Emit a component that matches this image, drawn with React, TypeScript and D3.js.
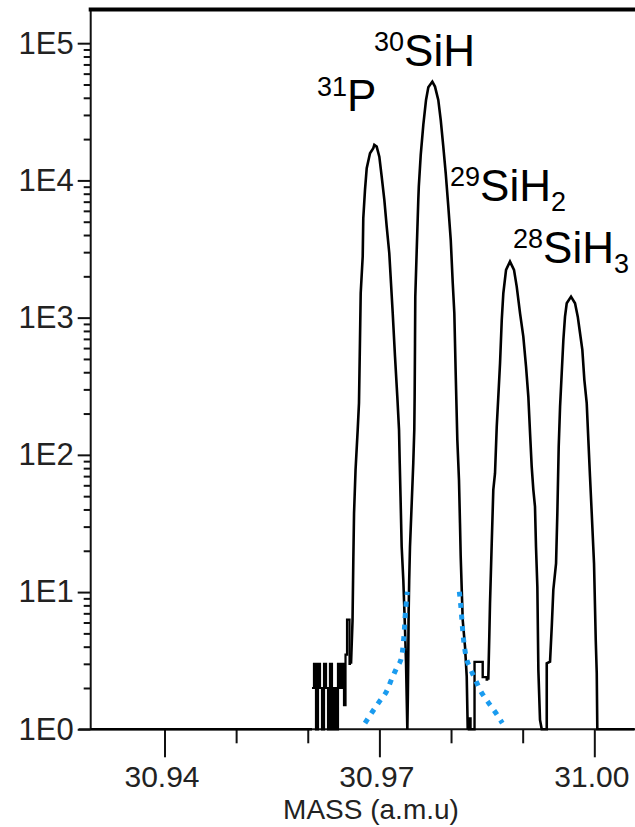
import React, { useEffect, useRef } from 'react';
import * as d3 from 'd3';

const WIDTH = 635;
const HEIGHT = 827;

// [mass (a.m.u), counts], left to right
const baseline: [number, number][] = [
  [30.9297, 1], [30.96059, 1],
];

// low-count noise left of 31P (drawn as steps)
const noiseBeforeP: [number, number][] = [
  [30.96059, 2], [30.96087, 3], [30.96115, 1], [30.96143, 3], [30.96171, 2],
  [30.96199, 1], [30.96227, 3], [30.96255, 2], [30.96283, 1], [30.9631, 3],
  [30.96338, 1], [30.96366, 2], [30.96394, 1], [30.96422, 3], [30.9645, 2],
  [30.96478, 3], [30.96506, 1.5], [30.96527, 3.5], [30.96548, 6.3], [30.96583, 3],
  [30.96604, 3],
];

const peakP: [number, number][] = [
  [30.96604, 3], [30.96625, 6.2], [30.96636, 17.1], [30.96646, 37.5], [30.96667, 77.6],
  [30.96697, 152], [30.96715, 238], [30.96729, 687], [30.96739, 1506], [30.96767, 2786],
  [30.96775, 5297], [30.96799, 8530], [30.96823, 12280], [30.96869, 15790], [30.96915, 17170],
  [30.96929, 18140], [30.96962, 17630], [30.96999, 14900], [30.97032, 10660], [30.97069, 7210],
  [30.97102, 4605], [30.97138, 2946], [30.97162, 1782], [30.97186, 1077], [30.97218, 520],
  [30.9725, 266], [30.97274, 152], [30.97284, 86.9], [30.97295, 49.6], [30.97311, 21.4],
  [30.97334, 12.2], [30.97358, 5.29], [30.97372, 3.03], [30.97381, 1.73], [30.9739, 1],
];

const peakSiH: [number, number][] = [
  [30.97397, 1.73], [30.97404, 3.78], [30.97408, 7.04], [30.97416, 12.2], [30.97427, 21.4],
  [30.97451, 44.4], [30.97473, 87.3], [30.97487, 152], [30.97492, 266], [30.97497, 650],
  [30.97501, 1422], [30.97521, 3116], [30.97543, 7210], [30.9755, 9010], [30.97577, 15350],
  [30.97613, 25360], [30.97651, 38600], [30.97683, 47770], [30.97739, 52480], [30.97776, 48280],
  [30.97822, 38600], [30.97856, 27610], [30.97892, 17630], [30.97926, 11270], [30.97962, 6440],
  [30.97996, 3681], [30.98024, 1782], [30.98046, 1077], [30.98065, 393], [30.98088, 128],
  [30.98111, 65.6], [30.98125, 31.7], [30.98135, 18.1], [30.98163, 6.26], [30.98195, 4.0],
  [30.98219, 2.42], [30.98233, 1],
];

// noise between 30SiH and 29SiH2 (drawn as steps)
const noiseBeforeSiH2: [number, number][] = [
  [30.98233, 1], [30.98251, 1.2], [30.98272, 1], [30.98328, 3.1], [30.98442, 2.4],
  [30.98498, 2.3], [30.9852, 2.3],
];

const peakSiH2: [number, number][] = [
  [30.9852, 2.3], [30.98534, 4.73], [30.98544, 8.28], [30.98568, 22.7], [30.9859, 55.5],
  [30.98614, 73.5], [30.98638, 161], [30.9866, 266], [30.98684, 465], [30.98708, 962],
  [30.9873, 1506], [30.98768, 2228], [30.98823, 2560], [30.98879, 2228], [30.98917, 1683],
  [30.98963, 1077], [30.99009, 727], [30.99047, 439], [30.99079, 266], [30.99103, 144],
  [30.99126, 82], [30.99149, 55.5], [30.99172, 41.9], [30.99186, 21.4], [30.99205, 10.9],
  [30.99219, 2.71], [30.99242, 1.17], [30.99266, 1], [30.99336, 1],
];

const peakSiH3: [number, number][] = [
  [30.99336, 3.03], [30.99382, 3.11], [30.99406, 5.6], [30.99428, 10.4], [30.99466, 16.2],
  [30.99484, 37.5], [30.99503, 115], [30.99522, 224], [30.99545, 393], [30.99568, 687],
  [30.99591, 1016], [30.99615, 1273], [30.99675, 1422], [30.99731, 1273], [30.99769, 1016],
  [30.99801, 769], [30.99833, 582], [30.99861, 352], [30.99894, 238], [30.99917, 128],
  [30.9994, 69.3], [30.99964, 37.5], [30.99996, 16.2], [31.0002, 4.48], [31.00034, 2.56],
  [31.00042, 1], [31.0056, 1],
];

// blue dotted tails
const tailLeft: [number, number][] = [
  [30.96799, 1.11], [30.96893, 1.32], [30.96999, 1.59], [30.97102, 1.9], [30.97172, 2.33],
  [30.97242, 2.81], [30.97311, 3.38], [30.97334, 4.24], [30.97348, 5.23], [30.97358, 6.55],
  [30.97372, 8.05], [30.9739, 10.07],
];
const tailRight: [number, number][] = [
  [30.98116, 10.07], [30.98135, 8.05], [30.98149, 6.55], [30.98163, 5.23], [30.98181, 4.24],
  [30.98205, 3.48], [30.98265, 2.81], [30.98335, 2.33], [30.98414, 1.9], [30.98512, 1.59],
  [30.98624, 1.32], [30.98716, 1.11],
];

const massTicks = [30.94, 30.97, 31.0];
const massMinorTicks = [30.95, 30.96, 30.98, 30.99];
const countTicks = [1, 10, 100, 1000, 10000, 100000];

const peakLabels = [
  { iso: '31', el: 'P', sub: '' },
  { iso: '30', el: 'SiH', sub: '' },
  { iso: '29', el: 'SiH', sub: '2' },
  { iso: '28', el: 'SiH', sub: '3' },
];

const FONT = "'Liberation Sans', Arial, sans-serif";

const App = () => {
  const svgRef = useRef<SVGSVGElement>(null);

  useEffect(() => {
    const svg = d3.select(svgRef.current);
    svg.selectAll('*').remove();

    const x = d3.scaleLinear().domain([30.9297, 31.00568]).range([90.7, 635]);
    const y = d3.scaleLog().domain([1, 176000]).range([729.3, 9.5]);

    const minorY = y.ticks().filter(v => !countTicks.includes(v));

    // Y axis: minor and major ticks in their own groups
    svg.append('g')
      .attr('class', 'ticks')
      .attr('transform', 'translate(90.7,0)')
      .call(d3.axisLeft(y).tickValues(minorY).tickSize(7).tickFormat(() => ''));
    const yAxis = svg.append('g')
      .attr('class', 'ticks')
      .attr('transform', 'translate(90.7,0)')
      .call(
        d3.axisLeft(y)
          .tickValues(countTicks)
          .tickSize(13)
          .tickPadding(4)
          .tickFormat(d => '1E' + Math.round(Math.log10(+d)))
      );

    // X axis
    svg.append('g')
      .attr('class', 'ticks')
      .attr('transform', 'translate(0,729.3)')
      .call(d3.axisBottom(x).tickValues(massMinorTicks).tickSize(14).tickFormat(() => ''));
    const xAxis = svg.append('g')
      .attr('class', 'ticks')
      .attr('transform', 'translate(0,729.3)')
      .call(
        d3.axisBottom(x)
          .tickValues(massTicks)
          .tickSize(28)
          .tickPadding(8)
          .tickFormat(d3.format('.2f'))
      );

    svg.selectAll('.ticks .domain').remove();
    svg.selectAll('.tick line').attr('stroke', '#111').attr('stroke-width', 2);
    yAxis.selectAll('text')
      .attr('fill', '#222')
      .style('font-family', FONT)
      .style('font-size', '31px');
    xAxis.selectAll('text')
      .attr('fill', '#222')
      .attr('dx', -3)
      .style('font-family', FONT)
      .style('font-size', '30px');

    // frame: left axis, bottom axis, heavy top line
    svg.append('line')
      .attr('x1', x.range()[0]).attr('x2', x.range()[0])
      .attr('y1', y.range()[1]).attr('y2', y.range()[0])
      .attr('stroke', '#111').attr('stroke-width', 2);
    svg.append('line')
      .attr('x1', x.range()[0] - 12).attr('x2', WIDTH)
      .attr('y1', y.range()[0]).attr('y2', y.range()[0])
      .attr('stroke', '#111').attr('stroke-width', 2);
    svg.append('line')
      .attr('x1', x.range()[0] - 2).attr('x2', WIDTH)
      .attr('y1', y.range()[1]).attr('y2', y.range()[1])
      .attr('stroke', '#000').attr('stroke-width', 4);

    // spectrum trace
    const line = d3.line<[number, number]>()
      .x(d => x(d[0]))
      .y(d => y(Math.max(1, d[1])));
    const stepLine = d3.line<[number, number]>()
      .x(d => x(d[0]))
      .y(d => y(Math.max(1, d[1])))
      .curve(d3.curveStepAfter);

    const drawTrace = (data: [number, number][], gen: d3.Line<[number, number]>, w: number) => {
      svg.append('path')
        .datum(data)
        .attr('fill', 'none')
        .attr('stroke', '#000')
        .attr('stroke-width', w)
        .attr('d', gen);
    };

    drawTrace(baseline, line, 2.6);
    drawTrace(noiseBeforeP, stepLine, 2.2);
    drawTrace([...peakP, ...peakSiH], line, 2.6);
    drawTrace(noiseBeforeSiH2, stepLine, 2.4);
    drawTrace([...peakSiH2, ...peakSiH3], line, 2.6);

    // dotted tails
    const tailLine = d3.line<[number, number]>()
      .x(d => x(d[0]))
      .y(d => y(d[1]))
      .curve(d3.curveMonotoneX);
    [tailLeft, tailRight].forEach(t => {
      svg.append('path')
        .datum(t)
        .attr('fill', 'none')
        .attr('stroke', '#1a9bef')
        .attr('stroke-width', 5)
        .attr('stroke-dasharray', '5 6.5')
        .attr('d', tailLine);
    });

    // peak labels
    const labelPos = [[317, 111], [374, 66], [450, 201], [513, 263]];
    peakLabels.forEach((l, i) => {
      const t = svg.append('text')
        .attr('x', labelPos[i][0])
        .attr('y', labelPos[i][1])
        .attr('fill', '#000')
        .style('font-family', FONT);
      t.append('tspan').attr('font-size', 27).attr('dy', -15).text(l.iso);
      t.append('tspan').attr('font-size', 44).attr('dy', 15).text(l.el);
      if (l.sub) t.append('tspan').attr('font-size', 27).attr('dy', 10).text(l.sub);
    });

    // axis title
    svg.append('text')
      .attr('x', 371)
      .attr('y', 819)
      .attr('text-anchor', 'middle')
      .attr('fill', '#222')
      .style('font-family', FONT)
      .style('font-size', '28px')
      .text('MASS (a.m.u)');
  }, []);

  return (
    <svg
      ref={svgRef}
      width={WIDTH}
      height={HEIGHT}
      style={{ position: 'absolute', left: 0, top: 0, background: '#fff' }}
    ></svg>
  );
};

export default App;
